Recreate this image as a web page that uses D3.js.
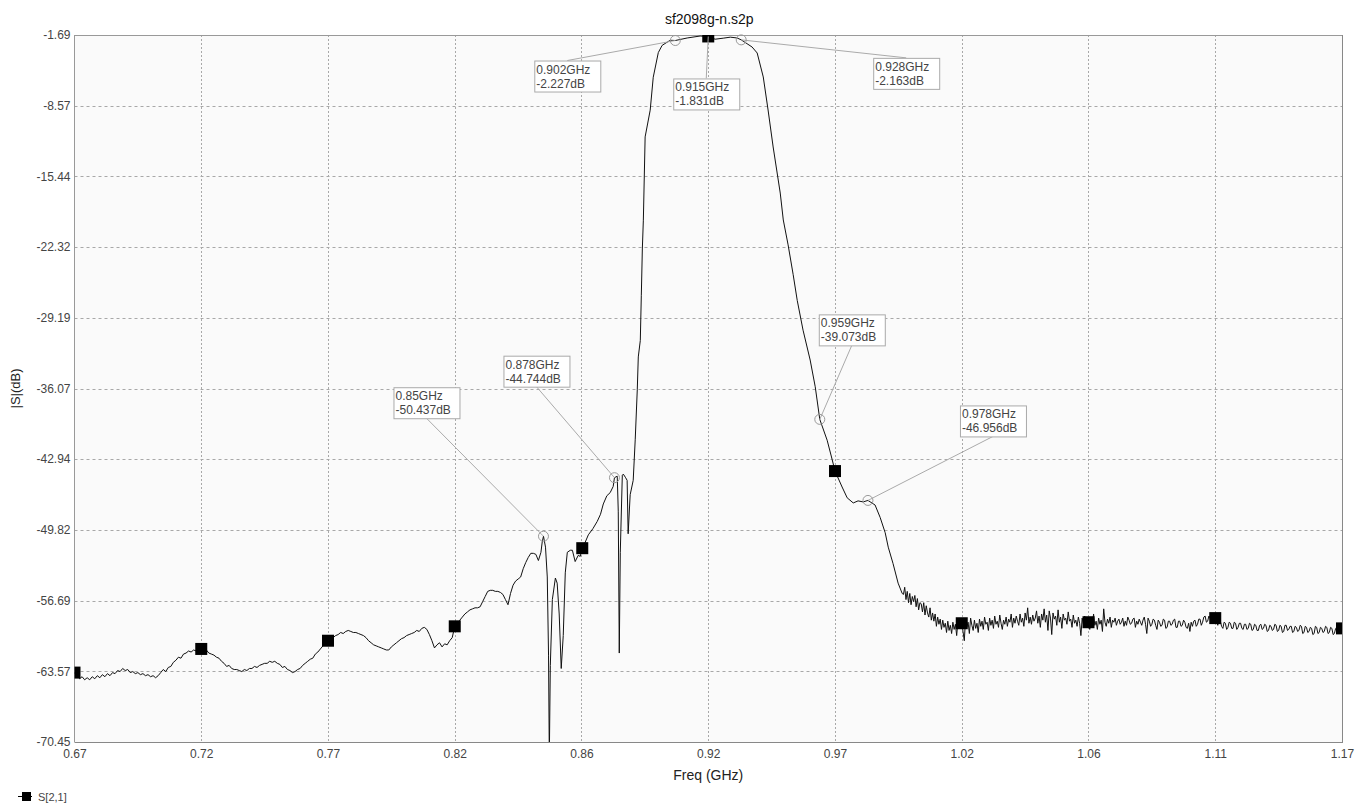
<!DOCTYPE html>
<html>
<head>
<meta charset="utf-8">
<script src="https://cdn.jsdelivr.net/npm/d3@7"></script>
<style>
  html, body { margin: 0; padding: 0; background: #ffffff; }
  svg { display: block; font-family: "Liberation Sans", Arial, sans-serif; }
</style>
</head>
<body>
<svg id="chart" width="1357" height="803"></svg>
<script>
// ---------------- DATA ----------------
const chartTitle = "sf2098g-n.s2p";
const xAxisTitle = "Freq (GHz)";
const yAxisTitle = "|S|(dB)";
const seriesName = "S[2,1]";

const xDomain = [0.665, 1.165];
const yDomain = [-70.45, -1.69];

const xTickValues = [0.665, 0.715, 0.765, 0.815, 0.865, 0.915, 0.965, 1.015, 1.065, 1.115, 1.165];
const xTickLabels = ["0.67", "0.72", "0.77", "0.82", "0.86", "0.92", "0.97", "1.02", "1.06", "1.11", "1.17"];
const yTickValues = [-1.69, -8.57, -15.44, -22.32, -29.19, -36.07, -42.94, -49.82, -56.69, -63.57, -70.45];
const yTickLabels = ["-1.69", "-8.57", "-15.44", "-22.32", "-29.19", "-36.07", "-42.94", "-49.82", "-56.69", "-63.57", "-70.45"];

// S21 trace [GHz, dB]
const sweepLow = [
  [0.665,-63.7],[0.6655,-63.9],[0.6662,-64.0],[0.667,-64.3],[0.668,-64.1],[0.669,-64.4],[0.670,-64.2],
  [0.671,-64.4],[0.672,-64.1],[0.673,-64.3],[0.674,-64.0],[0.675,-64.2],[0.676,-63.9],[0.677,-64.1],
  [0.678,-63.8],[0.679,-64.0],[0.680,-63.7],[0.681,-63.8],[0.682,-63.5],[0.683,-63.6],[0.684,-63.3],
  [0.685,-63.5],[0.686,-63.4],[0.687,-63.7],[0.688,-63.6],[0.689,-63.8],[0.690,-63.7],[0.691,-63.9],
  [0.692,-63.8],[0.693,-64.0],[0.694,-63.9],[0.695,-64.1],[0.696,-64.0],[0.697,-64.2],[0.698,-64.0],
  [0.699,-63.7],[0.700,-63.4],[0.701,-63.6],[0.702,-63.2],[0.703,-63.1],[0.704,-62.7],[0.705,-62.5],
  [0.706,-62.2],[0.707,-62.3],[0.708,-61.9],[0.709,-61.8],[0.710,-61.6],[0.711,-61.7],[0.712,-61.5],
  [0.713,-61.6],[0.714,-61.3],[0.715,-61.4],[0.716,-61.6],[0.717,-61.5],[0.718,-61.8],[0.719,-61.9],
  [0.720,-62.0],[0.721,-62.2],[0.722,-62.3],[0.723,-62.6],[0.724,-62.8],[0.725,-63.1],[0.726,-63.0],
  [0.727,-63.3],[0.728,-63.4],[0.729,-63.4],[0.730,-63.5],[0.731,-63.6],[0.732,-63.4],[0.733,-63.5],
  [0.734,-63.3],[0.735,-63.3],[0.736,-63.1],[0.737,-63.2],[0.738,-63.0],[0.739,-62.9],[0.740,-62.8],
  [0.741,-62.8],[0.742,-62.6],[0.743,-62.7],[0.744,-62.6],[0.745,-62.8],[0.746,-62.9],[0.747,-63.2],
  [0.748,-63.1],[0.749,-63.4],[0.750,-63.5],[0.751,-63.7],[0.752,-63.6],[0.753,-63.4],[0.754,-63.3],
  [0.755,-63.0],[0.756,-62.8],[0.757,-62.6],[0.758,-62.4],[0.759,-62.3],[0.760,-61.9],[0.761,-61.7],
  [0.762,-61.4],[0.763,-61.1],[0.764,-60.9],[0.765,-60.6],[0.766,-60.5],[0.767,-60.3],[0.768,-60.1],
  [0.769,-60.0],[0.770,-59.8],[0.771,-59.9],[0.772,-59.7],[0.773,-59.6],[0.774,-59.7],[0.775,-59.8],
  [0.776,-59.8],[0.777,-59.9],[0.778,-60.0],[0.779,-60.1],[0.780,-60.3],[0.781,-60.6],[0.782,-60.8],
  [0.783,-61.0],[0.784,-61.1],[0.785,-61.2],[0.786,-61.3],[0.787,-61.4],[0.788,-61.5],[0.789,-61.5],
  [0.790,-61.2],[0.791,-61.0],[0.792,-60.8],[0.793,-60.6],[0.794,-60.4],[0.795,-60.3],[0.796,-60.1],
  [0.797,-60.0],[0.798,-59.9],[0.799,-59.8],[0.800,-59.6],[0.801,-59.7],[0.802,-59.4],[0.803,-59.3],
  [0.804,-59.5],[0.805,-60.0],[0.806,-60.6],[0.807,-61.3],[0.808,-61.0],[0.809,-60.8],[0.810,-61.2],
  [0.811,-60.9],[0.812,-61.0],[0.813,-60.6],[0.814,-60.3],[0.815,-59.2],[0.816,-59.0],[0.817,-58.6],
  [0.818,-58.3],[0.819,-58.0],[0.820,-57.8],[0.821,-57.6],[0.822,-57.5],[0.823,-57.4],[0.824,-57.4],
  [0.825,-57.3],[0.826,-56.8],[0.827,-56.3],[0.828,-55.8],[0.829,-55.7],[0.830,-55.7],[0.831,-55.8],
  [0.832,-55.8],[0.833,-55.9],[0.834,-56.1],[0.835,-56.6],[0.836,-57.1],[0.837,-56.0],[0.838,-55.2],
  [0.839,-54.8],[0.840,-54.6],[0.841,-54.4],[0.842,-53.6],[0.843,-53.0],[0.844,-52.5],[0.845,-52.1],
  [0.846,-52.1],[0.847,-52.2],[0.848,-52.8],[0.849,-52.0],[0.8495,-51.0]
];
const sweepNotch = [
  [0.850,-50.437],[0.8508,-51.5],[0.8515,-54.4],[0.852,-62.0],[0.8523,-72.0],[0.8527,-63.0],
  [0.8535,-56.6],[0.8547,-54.5],[0.8554,-55.0],[0.8562,-58.0],[0.857,-63.3],[0.8578,-60.1],
  [0.8586,-54.0],[0.8594,-52.0],[0.8606,-51.8],[0.8614,-51.8],[0.8625,-52.9],[0.8637,-52.3],
  [0.8645,-52.4],[0.8653,-51.6],[0.8665,-51.0],[0.8677,-50.3],[0.8695,-49.7],[0.8712,-49.0],
  [0.8725,-48.3],[0.8736,-47.3],[0.875,-46.5],[0.8763,-46.2],[0.8775,-45.6],[0.878,-44.744],
  [0.8791,-44.6],[0.8795,-48.0],[0.8799,-61.8],[0.8803,-52.0],[0.8811,-44.5],[0.8815,-44.4],
  [0.8823,-44.7],[0.883,-45.0],[0.8834,-50.2],[0.8842,-46.4],[0.8854,-45.0],[0.8862,-41.0],
  [0.887,-36.2],[0.8874,-33.0],[0.8882,-31.4],[0.8886,-27.0],[0.889,-22.5],[0.8894,-19.7]
];
const sweepPass = [
  [0.8901,-11.6],[0.8921,-9.0],[0.8933,-5.8],[0.8953,-3.4],[0.8968,-2.7],[0.900,-2.2],[0.902,-2.227],
  [0.9067,-1.98],[0.9118,-1.79],[0.915,-1.831],[0.9177,-2.1],[0.9209,-2.0],[0.9237,-1.9],[0.9264,-1.98],
  [0.928,-2.163],[0.9323,-2.86],[0.9343,-3.44],[0.9367,-5.77],[0.9386,-8.98],[0.9406,-12.58],
  [0.9434,-17.06],[0.9446,-19.68],[0.9465,-22.1],[0.9485,-25.0],[0.9501,-27.5],[0.9524,-30.4],
  [0.9552,-33.3],[0.9572,-35.9],[0.959,-39.073],[0.9619,-41.1],[0.9639,-43.0],[0.965,-44.1],
  [0.9678,-45.65],[0.9698,-46.7],[0.9722,-47.2],[0.9741,-47.0],[0.9761,-47.1],[0.978,-46.956],
  [0.9808,-47.4],[0.9828,-48.6],[0.9848,-50.1],[0.986,-51.5],[0.9879,-53.1],[0.9899,-55.0],[0.9915,-56.0]
];
// stopband sweep: 0.5 MHz point spacing starting at 0.992 GHz
const stopStartGHz = 0.992;
const stopStepGHz = 0.0005;
const stopDb = [
  -56.1,-55.4,-56.6,-55.8,-56.9,-56.0,-57.1,-56.3,-56.8,-56.2,
  -57.3,-56.5,-57.6,-56.9,-57.0,-57.8,-56.9,-58.1,-57.2,-57.9,
  -58.3,-57.4,-58.6,-57.9,-58.7,-58.0,-59.2,-58.3,-59.0,-58.5,
  -59.5,-58.6,-59.3,-58.9,-59.8,-58.7,-59.6,-59.1,-59.9,-58.8,
  -59.5,-59.0,-60.1,-58.7,-59.4,-59.2,-58.9,-59.7,-60.6,-58.5,
  -59.3,-58.8,-59.9,-58.4,-59.1,-59.6,-58.6,-59.4,-58.9,-59.8,
  -58.5,-59.2,-58.7,-59.5,-58.3,-59.0,-58.8,-59.6,-58.4,-59.1,
  -58.6,-59.4,-58.2,-59.0,-58.7,-59.3,-58.1,-58.9,-59.5,-58.6,
  -59.0,-58.3,-59.2,-58.5,-58.8,-58.0,-59.3,-58.4,-58.9,-58.2,
  -58.7,-59.1,-58.0,-58.8,-58.4,-59.2,-57.9,-58.6,-57.4,-58.9,
  -58.3,-59.0,-58.1,-58.7,-58.4,-57.7,-58.9,-58.2,-59.3,-58.0,
  -58.6,-57.5,-58.8,-58.1,-59.6,-57.7,-58.4,-60.0,-57.9,-58.5,
  -58.2,-59.1,-57.6,-58.8,-58.3,-59.4,-58.0,-58.6,-58.4,-59.0,
  -57.8,-58.7,-58.5,-59.3,-58.1,-58.9,-58.6,-59.2,-58.3,-58.9,
  -60.1,-58.4,-59.0,-58.2,-59.1,-58.7,-58.8,-59.5,-58.6,-59.2,
  -58.0,-59.1,-58.7,-59.5,-58.4,-59.0,-58.6,-59.7,-57.5,-58.8,
  -59.2,-58.5,-58.9,-58.3,-59.3,-58.6,-58.8,-58.4,-59.1,-58.7,
  -58.5,-59.0,-58.8,-58.4,-59.2,-58.7,-59.1,-58.3,-58.6,-59.0,
  -58.9,-58.5,-58.4,-59.3,-58.7,-59.0,-58.5,-58.8,-59.1,-58.6,
  -58.3,-59.0,-59.9,-58.4,-58.7,-59.2,-59.0,-58.5,-58.6,-59.1,
  -59.5,-58.6,-58.8,-59.2,-59.1,-58.5,-58.6,-59.4,-59.3,-58.7,
  -58.7,-59.1,-59.0,-58.6,-58.5,-59.3,-59.3,-58.7,-58.7,-59.2,
  -59.1,-58.6,-58.8,-59.3,-59.4,-58.9,-59.7,-58.8,-59.2,-58.7,
  -58.6,-59.2,-59.0,-58.5,-58.5,-59.1,-58.8,-58.3,-58.2,-58.8,
  -58.7,-58.2,-58.4,-58.9,-58.7,-58.3,-58.4,-58.8,-59.1,-58.6,
  -58.7,-59.2,-59.4,-58.8,-58.9,-59.5,-59.3,-58.8,-58.9,-59.4,
  -59.4,-58.8,-58.9,-59.5,-59.3,-58.9,-58.9,-59.4,-59.5,-59.0,
  -59.0,-59.5,-59.4,-58.9,-59.0,-59.6,-59.5,-59.0,-59.1,-59.6,
  -59.6,-59.1,-59.0,-59.5,-59.4,-59.0,-59.1,-59.7,-59.6,-59.1,
  -59.2,-59.6,-59.5,-59.0,-59.1,-59.7,-59.6,-59.1,-59.2,-59.8,
  -59.7,-59.1,-59.1,-59.6,-59.5,-59.2,-59.2,-59.8,-59.7,-59.2,
  -59.3,-59.7,-59.6,-59.1,-59.2,-59.9,-59.8,-59.2,-59.3,-59.8,
  -59.7,-59.3,-59.4,-60.0,-59.9,-59.2,-59.3,-59.9,-59.8,-59.3,
  -59.4,-59.8,-59.7,-59.2,-59.3,-59.9,-59.8,-59.3,-59.4,-60.0,
  -59.9,-59.4,-59.5,-59.8,-59.7,-59.3,-59.4
];

// Annotation markers
const markerFreqs = [0.85, 0.878, 0.902, 0.915, 0.928, 0.959, 0.978];
const markerDb = [-50.437, -44.744, -2.227, -1.831, -2.163, -39.073, -46.956];
const markerFreqText = ["0.85GHz", "0.878GHz", "0.902GHz", "0.915GHz", "0.928GHz", "0.959GHz", "0.978GHz"];
const markerDbText = ["-50.437dB", "-44.744dB", "-2.227dB", "-1.831dB", "-2.163dB", "-39.073dB", "-46.956dB"];

// ---------------- LAYOUT ----------------
const plot = { left: 74.5, right: 1342, top: 35, bottom: 742 };
const labelOffsets = [
  { dx: -150, dy: -149, side: "bottom" },
  { dx: -111, dy: -122, side: "bottom" },
  { dx: -141, dy: 20, side: "top" },
  { dx: -35, dy: 42, side: "top" },
  { dx: 132, dy: 18, side: "top" },
  { dx: -1, dy: -105, side: "bottom" },
  { dx: 92, dy: -95, side: "bottom" }
];
const boxW = 66, boxH = 31;

const sweepStop = stopDb.map((v, i) => [stopStartGHz + i * stopStepGHz, v]);
const trace = [].concat(sweepLow, sweepNotch, sweepPass, sweepStop);

const svg = d3.select("#chart");
const x = d3.scaleLinear().domain(xDomain).range([plot.left, plot.right]);
const y = d3.scaleLinear().domain(yDomain).range([plot.bottom, plot.top]);

svg.append("rect")
  .attr("x", plot.left).attr("y", plot.top)
  .attr("width", plot.right - plot.left).attr("height", plot.bottom - plot.top)
  .attr("fill", "#fafafa");

svg.append("defs").append("clipPath").attr("id", "clip")
  .append("rect")
  .attr("x", plot.left).attr("y", plot.top)
  .attr("width", plot.right - plot.left).attr("height", plot.bottom - plot.top);

// grid
const grid = svg.append("g");
grid.selectAll("line.v").data(xTickValues.slice(1, -1)).enter().append("line")
  .attr("x1", d => Math.round(x(d)) + 0.5).attr("x2", d => Math.round(x(d)) + 0.5)
  .attr("y1", plot.top).attr("y2", plot.bottom)
  .attr("stroke", "#a8a8a8").attr("stroke-width", 1).attr("stroke-dasharray", "2,2");
grid.selectAll("line.h").data(yTickValues.slice(1, -1)).enter().append("line")
  .attr("y1", d => Math.round(y(d)) + 0.5).attr("y2", d => Math.round(y(d)) + 0.5)
  .attr("x1", plot.left).attr("x2", plot.right)
  .attr("stroke", "#a8a8a8").attr("stroke-width", 1).attr("stroke-dasharray", "3,3");

// axes
const xAxis = d3.axisBottom(x).tickValues(xTickValues)
  .tickFormat((d, i) => xTickLabels[i]).tickSize(0).tickPadding(7);
const gx = svg.append("g").attr("transform", `translate(0,${plot.bottom})`).call(xAxis);
gx.select(".domain").remove();
gx.selectAll("text").attr("font-size", 12).attr("fill", "#444")
  .attr("font-family", "Liberation Sans, Arial, sans-serif");

const yAxis = d3.axisLeft(y).tickValues(yTickValues)
  .tickFormat((d, i) => yTickLabels[i]).tickSize(0).tickPadding(4);
const gy = svg.append("g").attr("transform", `translate(${plot.left},0)`).call(yAxis);
gy.select(".domain").remove();
gy.selectAll("text").attr("font-size", 12).attr("fill", "#444")
  .attr("font-family", "Liberation Sans, Arial, sans-serif");

// frame
svg.append("line").attr("x1", plot.left).attr("x2", plot.left).attr("y1", plot.top).attr("y2", plot.bottom)
  .attr("stroke", "#999");
svg.append("line").attr("x1", plot.left).attr("x2", plot.right).attr("y1", plot.top + 0.5).attr("y2", plot.top + 0.5)
  .attr("stroke", "#999");
svg.append("line").attr("x1", plot.right + 0.5).attr("x2", plot.right + 0.5).attr("y1", plot.top).attr("y2", plot.bottom + 1)
  .attr("stroke", "#888");
svg.append("line").attr("x1", plot.left).attr("x2", plot.right + 1).attr("y1", plot.bottom + 0.5).attr("y2", plot.bottom + 0.5)
  .attr("stroke", "#888");

// trace
const line = d3.line().x(d => x(d[0])).y(d => y(d[1]));
const gTrace = svg.append("g").attr("clip-path", "url(#clip)");
gTrace.append("path").datum(trace)
  .attr("d", line).attr("fill", "none").attr("stroke", "#111").attr("stroke-width", 1);

// square data markers at grid frequencies (nearest sweep point)
const bis = d3.bisector(d => d[0]).center;
const squares = xTickValues.map(f => trace[bis(trace, f)]);
gTrace.selectAll("rect.sq").data(squares).enter().append("rect")
  .attr("x", d => x(d[0]) - 6).attr("y", d => y(d[1]) - 6)
  .attr("width", 12).attr("height", 12).attr("fill", "#000");

// annotations
const ann = svg.append("g");
markerFreqs.forEach((f, i) => {
  const px = x(f), py = y(markerDb[i]);
  const o = labelOffsets[i];
  const bx = px + o.dx, by = py + o.dy;
  const ex = bx + boxW / 2, ey = o.side === "top" ? by : by + boxH;
  ann.append("line").attr("x1", px).attr("y1", py).attr("x2", ex).attr("y2", ey)
    .attr("stroke", "#aaa").attr("stroke-width", 1);
  if (f !== 0.915) {
    ann.append("circle").attr("cx", px).attr("cy", py).attr("r", 5)
      .attr("fill", "none").attr("stroke", "#999").attr("stroke-width", 1);
  }
  ann.append("rect").attr("x", bx + 0.5).attr("y", by + 0.5).attr("width", boxW).attr("height", boxH)
    .attr("fill", "#fff").attr("stroke", "#aaa");
  ann.append("text").attr("x", bx + 2).attr("y", by + 13).text(markerFreqText[i])
    .attr("font-size", 12).attr("fill", "#444");
  ann.append("text").attr("x", bx + 2).attr("y", by + 27).text(markerDbText[i])
    .attr("font-size", 12).attr("fill", "#444");
});

// titles
svg.append("text").attr("x", (plot.left + plot.right) / 2 + 1).attr("y", 24)
  .attr("text-anchor", "middle").attr("font-size", 14).attr("fill", "#111").text(chartTitle);
svg.append("text").attr("x", (plot.left + plot.right) / 2).attr("y", 780)
  .attr("text-anchor", "middle").attr("font-size", 14).attr("fill", "#222").text(xAxisTitle);
svg.append("text").attr("transform", `translate(20,${(plot.top + plot.bottom) / 2}) rotate(-90)`)
  .attr("text-anchor", "middle").attr("font-size", 13).attr("fill", "#222").text(yAxisTitle);

// legend
const lg = svg.append("g");
lg.append("line").attr("x1", 18).attr("x2", 32).attr("y1", 796.5).attr("y2", 796.5).attr("stroke", "#000");
lg.append("rect").attr("x", 22).attr("y", 792).attr("width", 9).attr("height", 9).attr("fill", "#000");
lg.append("text").attr("x", 38).attr("y", 801).attr("font-size", 11).attr("fill", "#444").text(seriesName);
</script>
</body>
</html>
